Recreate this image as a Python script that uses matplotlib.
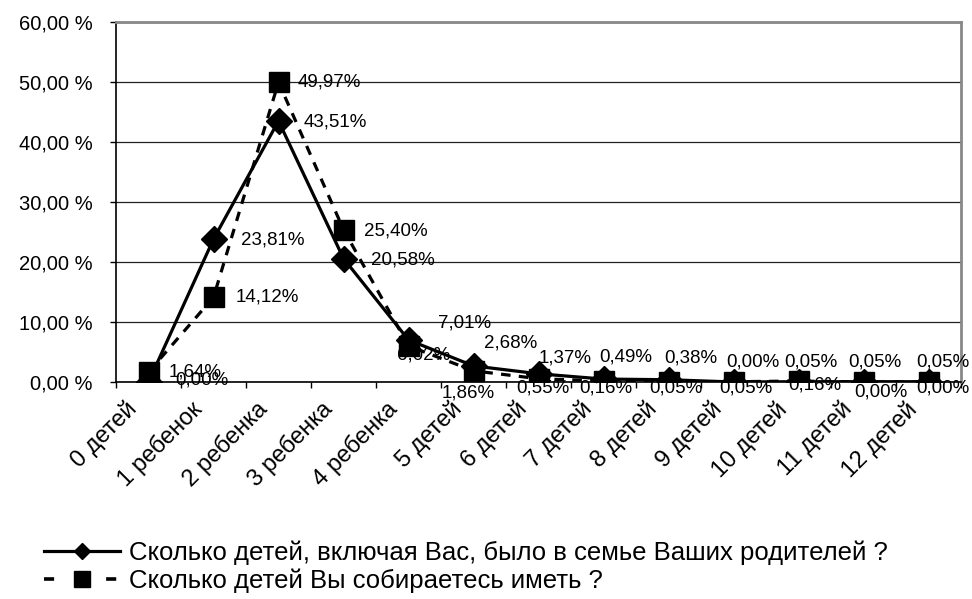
import matplotlib
matplotlib.use("Agg")
import matplotlib.pyplot as plt
from matplotlib.lines import Line2D
import matplotlib.transforms as mtransforms
import numpy as np

plt.rcParams['font.family'] = ['Liberation Sans', 'DejaVu Sans']

categories = ["0 детей", "1 ребенок", "2 ребенка", "3 ребенка", "4 ребенка",
              "5 детей", "6 детей", "7 детей", "8 детей", "9 детей",
              "10 детей", "11 детей", "12 детей"]
series_parents_name = "Сколько детей, включая Вас, было в семье Ваших родителей ?"
series_parents = [0.00, 23.81, 43.51, 20.58, 7.01, 2.68, 1.37, 0.49, 0.38, 0.00, 0.05, 0.05, 0.05]
series_plan_name = "Сколько детей Вы собираетесь иметь ?"
series_plan = [1.64, 14.12, 49.97, 25.40, 6.02, 1.86, 0.55, 0.16, 0.05, 0.05, 0.16, 0.00, 0.00]
y_ticks = [0, 10, 20, 30, 40, 50, 60]

# label offsets in pixels (dx, dy) -- placement only
off_parents = [(27, -2), (27, 1), (25, 1), (27, 1), (29, -17), (10, -23), (0, -16),
               (-4, -22), (-4, -22), (-7, -20), (-14, -20), (-15, -20), (-12, -20)]
off_plan = [(20, 0), (22, 0), (19, 0), (20, 1), (-12, 9), (-32, 22), (-22, 9),
            (-24, 7), (-19, 6), (-14, 6), (-10, 4), (-9, 10), (-12, 6)]

W, H = 972, 599
fig = plt.figure(figsize=(W / 100, H / 100), dpi=100)
ax = fig.add_axes([116 / W, 1 - 382 / H, (961 - 116) / W, (382 - 22) / H])

x = np.arange(len(categories))
fs_tick = 14.5
fs_lab = 13.5
fs_x = 17
fs_leg = 18.5

ax.plot(x, series_plan, color='black', lw=2.3, linestyle=(0, (3, 2.6)),
        marker='s', markersize=14, zorder=3)
ax.plot(x, series_parents, color='black', lw=2.3, linestyle='-',
        marker='D', markersize=13, zorder=4)

def fmt(v):
    return f"{v:.2f}%".replace('.', ',')

for xi, v, (dx, dy) in zip(x, series_parents, off_parents):
    ax.annotate(fmt(v), (xi, v), xytext=(dx, -dy), textcoords='offset pixels',
                ha='left', va='center', fontsize=fs_lab, zorder=6, annotation_clip=False)
for xi, v, (dx, dy) in zip(x, series_plan, off_plan):
    ax.annotate(fmt(v), (xi, v), xytext=(dx, -dy), textcoords='offset pixels',
                ha='left', va='center', fontsize=fs_lab, zorder=6, annotation_clip=False)

ax.set_xlim(-0.5, len(categories) - 0.5)
ax.set_ylim(0, 60)
ax.set_yticks(y_ticks)
ax.set_yticklabels([f"{t:.2f} %".replace('.', ',') for t in y_ticks], fontsize=fs_tick)
ax.tick_params(axis='y', direction='out', length=4, width=1, pad=12.6, colors='black')
ax.yaxis.grid(True, color='#222222', lw=0.9)
ax.set_axisbelow(True)

ax.set_xticks(x)
ax.set_xticklabels(categories, fontsize=fs_x, rotation=45, ha='right',
                   rotation_mode='anchor', va='center')
ax.tick_params(axis='x', which='major', length=0, pad=17)
shift = mtransforms.ScaledTranslation(-15 / 100, 0, fig.dpi_scale_trans)
for lbl in ax.get_xticklabels():
    lbl.set_transform(lbl.get_transform() + shift)
ax.set_xticks(np.arange(-0.5, len(categories), 1), minor=True)
ax.tick_params(axis='x', which='minor', direction='out', length=4.5, width=1)

for s in ['left', 'bottom']:
    ax.spines[s].set_color('black')
    ax.spines[s].set_linewidth(1.2)
for s in ['top', 'right']:
    ax.spines[s].set_color('#888888')
    ax.spines[s].set_linewidth(2)

handles = [
    Line2D([], [], color='black', lw=2.3, marker='D', markersize=8),
    Line2D([], [], color='black', lw=2.6, linestyle=(0, (2.8, 5.8)), marker='s', markersize=11.5),
]
fig.legend(handles, [series_parents_name, series_plan_name], loc='upper left',
           bbox_to_anchor=(34 / W, 1 - 530 / H), frameon=False, fontsize=fs_leg,
           handlelength=2.95, handletextpad=0.35, labelspacing=0.14, borderaxespad=0)

fig.savefig("out.png", dpi=100)
